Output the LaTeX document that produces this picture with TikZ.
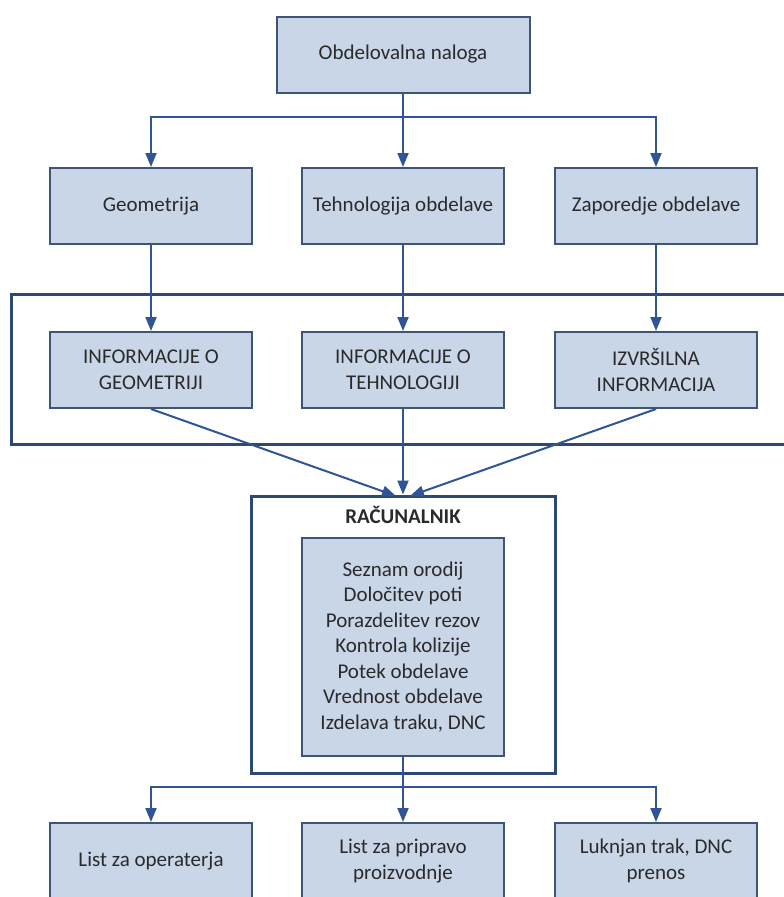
\documentclass[tikz,border=0pt]{standalone}
\usepackage{fontspec}
\setmainfont{Carlito}
\usetikzlibrary{arrows.meta}
\definecolor{boxfill}{HTML}{C9D6E8}
\definecolor{boxline}{HTML}{3E5578}
\definecolor{arrowblue}{HTML}{2F5597}
\definecolor{frameblue}{HTML}{2C4874}
\definecolor{txt}{HTML}{2A2A2A}
\tikzset{
  procbox/.style={draw=boxline, line width=2pt, fill=boxfill, minimum width=202pt,
    minimum height=76pt, inner sep=0pt, align=center, text=txt,
    font=\fontsize{21}{25.5}\selectfont},
  flow/.style={draw=arrowblue, line width=2pt, -{Triangle[length=14pt,width=11pt]}},
  flowline/.style={draw=arrowblue, line width=2pt},
  frame/.style={draw=frameblue, line width=3pt}
}
\begin{document}
\begin{tikzpicture}[x=1pt,y=-1pt]
\useasboundingbox (0,0) rectangle (784,897);
\clip (0,0) rectangle (784,897);
\fill[white] (0,0) rectangle (784,897);

% framed group around the information boxes
\draw[frame] (11,294) rectangle (800,444);

% top order
\node[procbox, minimum width=253pt] (order) at (403,54.5) {Obdelovalna naloga};

% second row
\node[procbox] (geo) at (151,206) {Geometrija};
\node[procbox] (tech) at (403,206) {Tehnologija obdelave};
\node[procbox] (seq) at (656,206) {Zaporedje obdelave};

% third row (information)
\node[procbox] (igeo) at (151,370) {INFORMACIJE O\\GEOMETRIJI};
\node[procbox] (itech) at (403,370) {INFORMACIJE O\\TEHNOLOGIJI};
\node[procbox] (iexe) at (656,370) {IZVRŠILNA\\INFORMACIJA};

% computer block
\node[frame, minimum width=304pt, minimum height=277pt, inner sep=0pt] (comp) at (403,634.5) {};
\node[text=txt, font=\fontsize{21}{25.5}\selectfont\bfseries] (complabel) at (403,515) {RAČUNALNIK};
\node[procbox, minimum height=218pt] (tasks) at (403,647) {Seznam orodij\\Določitev poti\\Porazdelitev rezov\\Kontrola kolizije\\Potek obdelave\\Vrednost obdelave\\Izdelava traku, DNC};

% outputs
\node[procbox] (oper) at (151,861) {List za operaterja};
\node[procbox] (prep) at (403,861) {List za pripravo\\proizvodnje};
\node[procbox] (tape) at (656,861) {Luknjan trak, DNC\\prenos};

% distribution from the order
\coordinate (bus1) at (403,117);
\draw[flowline] (order.south) -- (bus1);
\draw[flow] (bus1) -| (geo.north);
\draw[flow] (bus1) -| (seq.north);
\draw[flow] (bus1) -- (tech.north);

% second to third row
\draw[flow] (geo.south) -- (igeo.north);
\draw[flow] (tech.south) -- (itech.north);
\draw[flow] (seq.south) -- (iexe.north);

% converging into the computer
\coordinate (inL) at (396,496);
\coordinate (inR) at (410,496);
\draw[flow] (igeo.south) -- (inL);
\draw[flow] (iexe.south) -- (inR);
\draw[flow] (itech.south) -- (comp.north);

% distribution of the results
\coordinate (bus2) at (403,787);
\draw[flowline] (tasks.south) -- (bus2);
\draw[flow] (bus2) -| (oper.north);
\draw[flow] (bus2) -| (tape.north);
\draw[flow] (bus2) -- (prep.north);
\end{tikzpicture}
\end{document}
